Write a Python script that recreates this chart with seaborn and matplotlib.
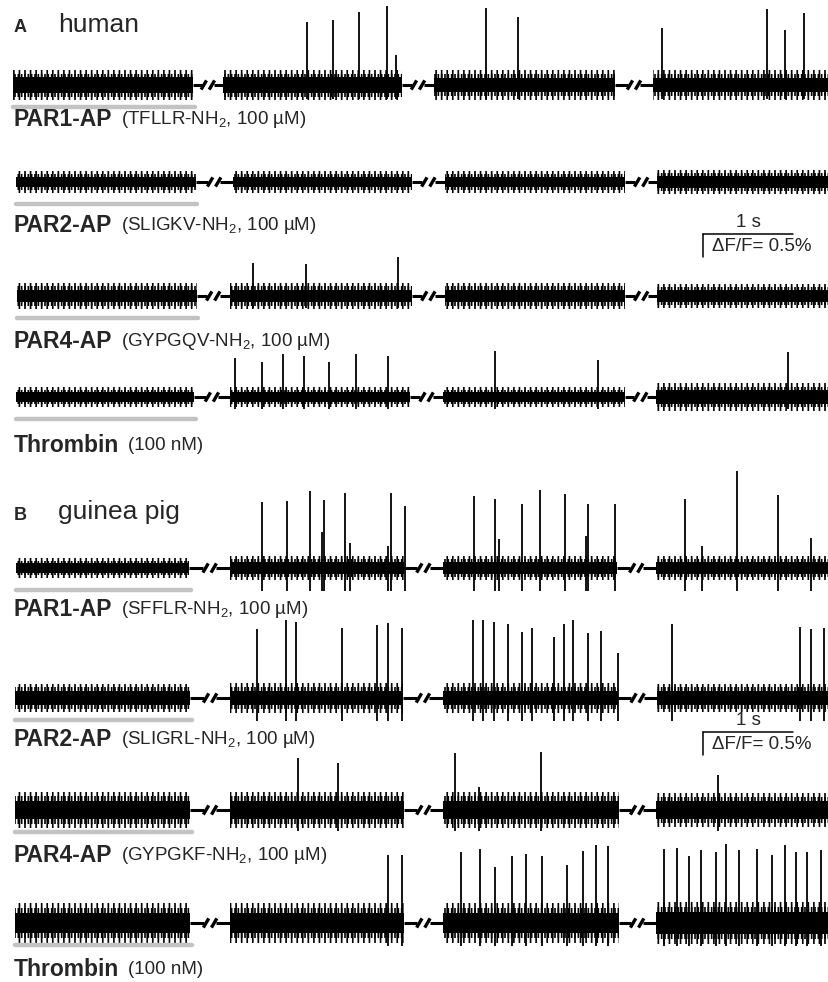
import matplotlib
matplotlib.use("Agg")
import matplotlib.pyplot as plt
import seaborn as sns

sns.set_theme(style="white")
plt.rcParams['font.family'] = ['Liberation Sans', 'DejaVu Sans']
plt.rcParams['mathtext.fontset'] = 'custom'
plt.rcParams['mathtext.rm'] = 'Liberation Sans'
plt.rcParams['mathtext.it'] = 'Liberation Sans:italic'
plt.rcParams['mathtext.bf'] = 'Liberation Sans:bold'
plt.rcParams['hatch.linewidth'] = 1.2

# ---- data: time in s, amplitude in % dF/F (baseline = 0) ----
panel_letters = ["A", "B"]
panel_species = ["human", "guinea pig"]

drug_names = ["PAR1-AP", "PAR2-AP", "PAR4-AP", "Thrombin",
              "PAR1-AP", "PAR2-AP", "PAR4-AP", "Thrombin"]
drug_details = ["(TFLLR-NH$_2$, 100 µM)", "(SLIGKV-NH$_2$, 100 µM)",
                "(GYPGQV-NH$_2$, 100 µM)", "(100 nM)",
                "(SFFLR-NH$_2$, 100 µM)", "(SLIGRL-NH$_2$, 100 µM)",
                "(GYPGKF-NH$_2$, 100 µM)", "(100 nM)"]

# four recording epochs per trace (start, end), separated by breaks
epochs_h_par1 = [(0.00, 2.00), (2.33, 4.32), (4.68, 6.69), (7.11, 9.10)]
epochs_h_par2 = [(0.03, 2.03), (2.44, 4.43), (4.80, 6.80), (7.16, 9.10)]
epochs_h_par4 = [(0.04, 2.04), (2.41, 4.43), (4.80, 6.80), (7.16, 9.10)]
epochs_h_thr = [(0.03, 2.01), (2.41, 4.41), (4.78, 6.80), (7.14, 9.10)]
epochs_g_par1 = [(0.03, 1.96), (2.41, 4.34), (4.78, 6.71), (7.14, 9.10)]
epochs_g_par2 = [(0.02, 1.97), (2.41, 4.33), (4.78, 6.72), (7.16, 9.10)]
epochs_g_par4 = [(0.02, 1.97), (2.41, 4.34), (4.78, 6.73), (7.14, 9.10)]
epochs_g_thr = [(0.02, 1.97), (2.41, 4.34), (4.78, 6.73), (7.14, 9.10)]

# spike times (s) and peak amplitudes (%)
spk_t_h_par1 = [3.27, 3.56, 3.84, 4.16, 4.26, 5.26, 5.61, 7.21, 8.38, 8.58, 8.79]
spk_a_h_par1 = [1.37, 1.41, 1.59, 1.72, 0.65, 1.67, 1.48, 1.24, 1.65, 1.20, 1.57]
spk_t_h_par2 = []
spk_a_h_par2 = []
spk_t_h_par4 = [2.67, 3.26, 4.28]
spk_a_h_par4 = [0.72, 0.70, 0.85]
spk_t_h_thr = [2.47, 2.77, 3.00, 3.23, 3.51, 3.81, 4.17, 5.36, 6.50, 8.61]
spk_a_h_thr = [0.85, 0.76, 0.93, 0.89, 0.76, 0.93, 0.89, 1.00, 0.80, 0.98]
spk_t_g_par1 = [2.77, 3.04, 3.30, 3.43, 3.46, 3.69, 3.74, 4.17, 4.20, 4.36,
                5.12, 5.36, 5.40, 5.66, 5.86, 6.13, 6.37, 6.39, 6.69,
                7.47, 7.66, 8.04, 8.50, 8.87]
spk_a_g_par1 = [1.43, 1.46, 1.67, 0.78, 1.48, 1.63, 0.54, 0.48, 1.63, 1.35,
                1.57, 1.50, 0.63, 1.39, 1.70, 1.61, 0.70, 1.39, 1.39,
                1.50, 0.48, 2.11, 1.59, 0.65]
spk_t_g_par2 = [2.71, 3.03, 3.14, 3.66, 4.04, 4.17, 4.32,
                5.11, 5.22, 5.34, 5.50, 5.66, 5.77, 6.01, 6.12, 6.22, 6.39, 6.53, 6.72,
                7.32, 8.74, 8.87, 9.01]
spk_a_g_par2 = [1.50, 1.70, 1.65, 1.52, 1.59, 1.63, 1.52,
                1.70, 1.70, 1.65, 1.61, 1.43, 1.52, 1.33, 1.61, 1.70, 1.41, 1.46, 0.98,
                1.61, 1.54, 1.50, 1.52]
spk_t_g_par4 = [3.17, 3.61, 4.91, 5.18, 5.87, 7.83]
spk_a_g_par4 = [1.13, 1.02, 1.24, 0.50, 1.26, 0.76]
spk_t_g_thr = [4.17, 4.32,
               4.98, 5.19, 5.36, 5.54, 5.70, 5.88, 6.16, 6.33, 6.48, 6.61,
               7.23, 7.38, 7.51, 7.64, 7.81, 7.92, 8.07, 8.27, 8.43, 8.58, 8.70, 8.82, 8.98]
spk_a_g_thr = [1.48, 1.48,
               1.54, 1.61, 1.22, 1.46, 1.50, 1.46, 1.26, 1.57, 1.70, 1.67,
               1.61, 1.63, 1.46, 1.59, 1.54, 1.72, 1.59, 1.61, 1.48, 1.70, 1.54, 1.54, 1.59]

# noise envelope per epoch: dense core, middle and outer fringe half-widths (%)
noise_core = [[0.17, 0.17, 0.16, 0.16], [0.11, 0.11, 0.11, 0.12],
              [0.14, 0.14, 0.14, 0.13], [0.10, 0.10, 0.10, 0.15],
              [0.11, 0.13, 0.13, 0.13], [0.15, 0.16, 0.16, 0.15],
              [0.20, 0.20, 0.20, 0.19], [0.22, 0.22, 0.22, 0.23]]
noise_mid = [[0.25, 0.25, 0.24, 0.24], [0.17, 0.17, 0.17, 0.19],
             [0.21, 0.21, 0.21, 0.20], [0.16, 0.16, 0.16, 0.22],
             [0.16, 0.20, 0.20, 0.20], [0.23, 0.24, 0.24, 0.23],
             [0.30, 0.30, 0.30, 0.29], [0.32, 0.32, 0.32, 0.34]]
noise_fringe = [[0.33, 0.33, 0.32, 0.32], [0.24, 0.24, 0.24, 0.26],
                [0.28, 0.28, 0.28, 0.27], [0.22, 0.22, 0.22, 0.30],
                [0.22, 0.27, 0.27, 0.27], [0.30, 0.32, 0.32, 0.30],
                [0.40, 0.40, 0.40, 0.38], [0.43, 0.43, 0.43, 0.45]]
undershoot = [0.3, 0.2, 0.25, 0.25, 0.5, 0.5, 0.45, 0.5]

epochs = [epochs_h_par1, epochs_h_par2, epochs_h_par4, epochs_h_thr,
          epochs_g_par1, epochs_g_par2, epochs_g_par4, epochs_g_thr]
spike_t = [spk_t_h_par1, spk_t_h_par2, spk_t_h_par4, spk_t_h_thr,
           spk_t_g_par1, spk_t_g_par2, spk_t_g_par4, spk_t_g_thr]
spike_a = [spk_a_h_par1, spk_a_h_par2, spk_a_h_par4, spk_a_h_thr,
           spk_a_g_par1, spk_a_g_par2, spk_a_g_par4, spk_a_g_thr]

scale_time = 1.0      # s
scale_amp = 0.5       # % dF/F

# ---- layout (pixels) ----
W, H = 829, 982
PX_S, PX_PCT = 90.0, 46.0
X0 = 13
baseline_px = [85, 182, 296, 397, 568, 698, 810, 923]
label_px = [120, 225, 342, 445, 610, 739, 855, 970]
bar_offset = 0.48
scale_rows = [1, 5]
scale_y = [-1.13, -0.74]
scale_x = 7.67

fig = plt.figure(figsize=(W / 100, H / 100), dpi=100)
fig.patch.set_facecolor("white")

lo, hi = 2.0, 2.6
axes = []
for r, base in enumerate(baseline_px):
    bottom = 1 - (base + lo * PX_PCT) / H
    ax = fig.add_axes([0, bottom, 1, (lo + hi) * PX_PCT / H])
    ax.set_xlim(-X0 / PX_S, (W - X0) / PX_S)
    ax.set_ylim(-lo, hi)
    ax.axis("off")
    axes.append(ax)

    segs = epochs[r]
    for k, (s, e) in enumerate(segs):
        fr, md, co = noise_fringe[r][k], noise_mid[r][k], noise_core[r][k]
        # sparse strokes reaching the outer envelope
        ax.fill_between([s, e], -fr, fr, facecolor="none", edgecolor="black",
                        hatch="|||", lw=0)
        # more strokes nearer the baseline
        ax.fill_between([s, e], -md, md, facecolor="none", edgecolor="black",
                        hatch="|||||", lw=0)
        ax.fill_between([s, e], -co, co, color="black", lw=0)
    # breaks between epochs
    for (s0, e0), (s1, e1) in zip(segs[:-1], segs[1:]):
        mid = (e0 + s1) / 2
        ax.plot([e0, mid - 0.07], [0, 0], color="black", lw=2.2,
                solid_capstyle="butt")
        ax.plot([mid + 0.07, s1], [0, 0], color="black", lw=2.2,
                solid_capstyle="butt")
        for c in (mid - 0.045, mid + 0.045):
            ax.plot([c - 0.03, c + 0.03], [-0.1, 0.1], color="black", lw=2.4,
                    solid_capstyle="butt")
    # spikes
    if spike_t[r]:
        ax.vlines(spike_t[r], -undershoot[r], spike_a[r], color="black", lw=1.3)
    # application bar
    sns.lineplot(x=[segs[0][0], segs[0][1] + 0.02], y=[-bar_offset, -bar_offset],
                 color="#c3c3c3", lw=3.2, ax=ax)

    # labels
    t1 = fig.text(14 / W, 1 - label_px[r] / H, drug_names[r], fontsize=16.5,
                  fontweight="bold", va="center", ha="left")
    ax.annotate(drug_details[r], xy=(1, 0.5), xycoords=t1, xytext=(6, 0),
                textcoords="offset points", va="center", ha="left",
                fontsize=13.5, annotation_clip=False)

# scale bars
for r, yb in zip(scale_rows, scale_y):
    ax = axes[r]
    ax.plot([scale_x, scale_x + scale_time], [yb, yb], color="black", lw=1.1,
            clip_on=False)
    ax.plot([scale_x, scale_x], [yb, yb - scale_amp], color="black", lw=1.1,
            clip_on=False)
    ax.text(scale_x + scale_time / 2, yb + 0.15, "1 s", ha="center",
            va="baseline", fontsize=13.5)
    ax.text(scale_x + 0.1, yb - 0.28, "ΔF/F= 0.5%", ha="left",
            va="center", fontsize=13.5)

# panel titles
for letter, species, ypx in zip(panel_letters, panel_species, [25, 512]):
    fig.text(14 / W, 1 - (ypx + 3) / H, letter, fontsize=13, fontweight="bold",
             va="center", ha="left")
    fig.text(58 / W, 1 - ypx / H, species, fontsize=19, va="center", ha="left")

fig.savefig("out.png", dpi=100)
